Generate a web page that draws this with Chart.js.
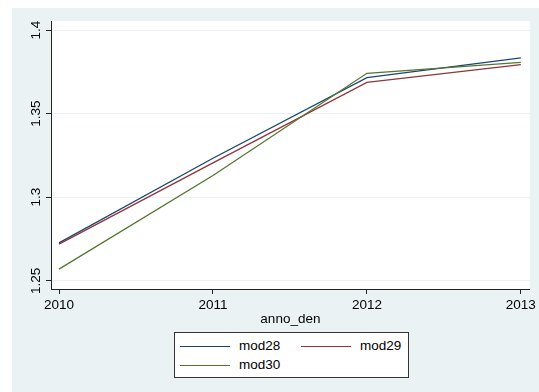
<!DOCTYPE html>
<html>
<head>
<meta charset="utf-8">
<script src="https://cdn.jsdelivr.net/npm/chart.js@4/dist/chart.umd.min.js"></script>
<style>
  html, body { margin: 0; padding: 0; background: #ffffff; }
  #wrap { position: relative; width: 539px; height: 392px; overflow: hidden; }
  #region { position: absolute; left: 12px; top: 8px; width: 527px; height: 384px; background: #eaf2f3; }
  #chart { position: absolute; left: 0; top: 0; }
  #legend {
    position: absolute; left: 174px; top: 332px; width: 233px; height: 44px;
    border: 1px solid #333333; background: #ffffff;
    font: 13.5px "Liberation Sans", Arial, sans-serif; color: #000000;
  }
  #legend .swatch { position: absolute; width: 50px; height: 0; border-top: 1.3px solid; }
  #legend .name { position: absolute; line-height: 16px; white-space: nowrap; }
</style>
</head>
<body>
<div id="wrap">
  <div id="region"></div>
  <canvas id="chart" width="539" height="392"></canvas>
  <div id="legend"></div>
</div>
<script>
// Years on the x axis
const years = [2010, 2011, 2012, 2013];

// Series values per year
const mod28 = [1.2727, 1.3233, 1.3715, 1.3834];
const mod29 = [1.2719, 1.3205, 1.3687, 1.3793];
const mod30 = [1.2570, 1.3130, 1.3741, 1.3807];

// Axis ticks
const xTickValues = [2010, 2011, 2012, 2013];
const yTickValues = [1.25, 1.3, 1.35, 1.4];
const yTickLabels = ['1.25', '1.3', '1.35', '1.4'];

const seriesNames = ['mod28', 'mod29', 'mod30'];
const seriesValues = [mod28, mod29, mod30];
const seriesColors = ['#1a476f', '#90353b', '#55752f'];

const FONT = '"Liberation Sans", Arial, sans-serif';
const AXIS = '#222222';
const GRID = '#eaf2f3';

const datasets = seriesNames.map((name, i) => ({
  label: name,
  data: years.map((yr, j) => ({ x: yr, y: seriesValues[i][j] })),
  borderColor: seriesColors[i],
  backgroundColor: seriesColors[i],
  borderWidth: 1.3,
  pointRadius: 0,
  tension: 0,
  fill: false,
  order: seriesNames.length - i
}));

// White plot region behind the lines
const plotBackground = {
  id: 'plotBackground',
  beforeDraw(chart) {
    const { ctx, chartArea: a } = chart;
    ctx.save();
    ctx.fillStyle = '#ffffff';
    ctx.fillRect(a.left, a.top, a.right - a.left, a.bottom - a.top);
    ctx.restore();
  }
};

const chart = new Chart(document.getElementById('chart'), {
  type: 'line',
  data: { datasets },
  plugins: [plotBackground],
  options: {
    responsive: false,
    animation: false,
    devicePixelRatio: 1,
    layout: { padding: { left: 0, top: 21, right: 7, bottom: 62 } },
    plugins: { legend: { display: false }, tooltip: { enabled: false } },
    scales: {
      x: {
        type: 'linear',
        min: 2009.948,
        max: 2013.058,
        afterBuildTicks(scale) { scale.ticks = xTickValues.map(v => ({ value: v })); },
        afterFit(scale) { scale.height = 41; },
        ticks: {
          color: '#000000',
          font: { family: FONT, size: 13.5 },
          padding: 3,
          maxRotation: 0,
          minRotation: 0,
          callback: v => String(v)
        },
        grid: { drawOnChartArea: false, drawTicks: true, tickLength: 5, tickColor: AXIS, tickWidth: 1 },
        border: { display: true, color: AXIS, width: 1 },
        title: {
          display: true,
          text: 'anno_den',
          color: '#000000',
          font: { family: FONT, size: 13.5 },
          padding: { top: 0, bottom: 3 }
        }
      },
      y: {
        type: 'linear',
        min: 1.2451,
        max: 1.4054,
        afterBuildTicks(scale) { scale.ticks = yTickValues.map(v => ({ value: v })); },
        afterFit(scale) { scale.width = 51; },
        ticks: {
          color: '#000000',
          font: { family: FONT, size: 13.5 },
          minRotation: 90,
          maxRotation: 90,
          crossAlign: 'center',
          padding: -3.5,
          callback: v => yTickLabels[yTickValues.indexOf(Math.round(v * 1000) / 1000)] ?? ''
        },
        grid: { color: GRID, lineWidth: 1, drawTicks: true, tickLength: 5, tickColor: AXIS, tickWidth: 1 },
        border: { display: true, color: AXIS, width: 1 }
      }
    }
  }
});

// Boxed legend, two entries per row
const legend = document.getElementById('legend');
chart.data.datasets.forEach((ds, i) => {
  const col = i % 2, row = Math.floor(i / 2);
  const cy = 13 + row * 19;
  const sw = document.createElement('div');
  sw.className = 'swatch';
  sw.style.left = (5 + col * 121) + 'px';
  sw.style.top = cy + 'px';
  sw.style.borderTopColor = ds.borderColor;
  legend.appendChild(sw);
  const nm = document.createElement('div');
  nm.className = 'name';
  nm.style.left = (64 + col * 121) + 'px';
  nm.style.top = (cy - 8) + 'px';
  nm.textContent = ds.label;
  legend.appendChild(nm);
});
</script>
</body>
</html>
